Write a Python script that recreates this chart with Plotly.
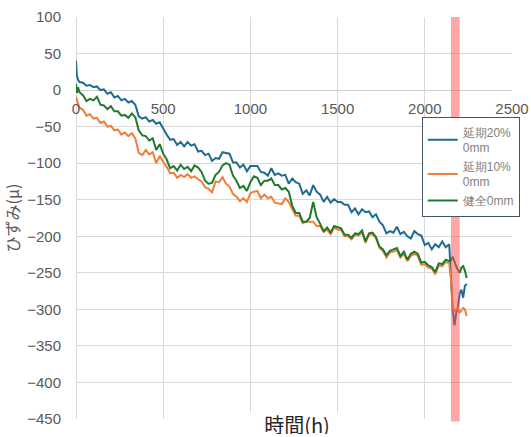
import plotly.graph_objects as go

hours = [0, 5, 12, 20, 40, 60, 80, 100, 120, 140, 160, 180, 200, 220, 240, 260, 280, 300, 320, 340,
         360, 380, 400, 420, 440, 460, 480, 500, 520, 540, 560, 580, 600, 620, 640, 660, 680, 700, 720, 740,
         760, 780, 800, 820, 840, 860, 880, 900, 920, 940, 960, 980, 1000, 1020, 1040, 1060, 1080, 1100, 1120, 1140,
         1160, 1180, 1200, 1220, 1240, 1260, 1280, 1300, 1320, 1340, 1360, 1380, 1400, 1420, 1440, 1460, 1480, 1500, 1520, 1540,
         1560, 1580, 1600, 1620, 1640, 1660, 1680, 1700, 1720, 1740, 1760, 1780, 1800, 1820, 1840, 1860, 1880, 1900, 1920, 1940,
         1960, 1980, 2000, 2020, 2040, 2060, 2080, 2100, 2120, 2140, 2150, 2160, 2170, 2180, 2190, 2200, 2210, 2220, 2230, 2240]

enki20 = [40, 20, 14, 11, 10, 6, 7, 4, 5, 0, 1, -5, -3, -10, -8, -14, -12, -17, -15, -20,
          -36, -39, -37, -43, -41, -46, -44, -53, -61, -68, -67, -75, -71, -77, -71, -76, -74, -84, -83, -89,
          -87, -97, -93, -94, -85, -86, -87, -99, -99, -106, -102, -111, -104, -104, -104, -112, -113, -117, -107, -116,
          -114, -117, -116, -128, -121, -126, -128, -142, -137, -144, -130, -139, -143, -153, -146, -154, -149, -153, -153, -157,
          -157, -167, -162, -170, -163, -167, -166, -174, -170, -180, -185, -196, -193, -195, -187, -197, -194, -200, -203, -193,
          -197, -199, -212, -209, -218, -211, -215, -207, -215, -211, -250, -300, -322, -305, -296, -278, -273, -284, -268, -265]

enki10 = [-9, -15, -19, -24, -27, -35, -33, -39, -38, -45, -43, -50, -49, -55, -54, -61, -58, -63, -59, -66,
          -86, -89, -82, -88, -85, -100, -90, -98, -105, -114, -113, -120, -116, -119, -115, -120, -118, -122, -125, -133,
          -135, -140, -125, -126, -119, -128, -132, -142, -146, -152, -148, -153, -141, -139, -138, -148, -143, -148, -146, -154,
          -155, -156, -148, -153, -163, -172, -172, -182, -180, -180, -180, -186, -186, -194, -191, -197, -188, -191, -191, -200,
          -200, -204, -198, -199, -195, -209, -198, -197, -203, -216, -220, -229, -222, -221, -219, -229, -224, -234, -227, -224,
          -227, -239, -238, -243, -244, -252, -240, -241, -235, -237, -259, -296, -303, -300, -298, -305, -301, -298, -300, -309]

kenzen = [9, -4, 4, -3, -7, -15, -12, -14, -9, -20, -21, -26, -22, -29, -29, -35, -34, -38, -32, -37,
          -55, -62, -63, -69, -66, -82, -74, -87, -95, -107, -104, -110, -102, -108, -105, -111, -103, -106, -112, -124,
          -128, -127, -116, -112, -103, -100, -102, -117, -124, -134, -131, -138, -126, -118, -120, -130, -124, -124, -121, -130,
          -130, -136, -134, -139, -158, -168, -168, -180, -180, -175, -153, -174, -183, -193, -188, -195, -186, -188, -189, -198,
          -198, -202, -196, -197, -192, -207, -196, -195, -201, -214, -218, -226, -220, -218, -216, -227, -221, -232, -224, -221,
          -224, -236, -235, -240, -242, -249, -237, -238, -232, -234, -233, -228, -236, -241, -246, -250, -243, -241, -247, -257]

series_names = ["延期20%<br>0mm", "延期10%<br>0mm", "健全0mm"]
series_colors = ["#1f6b91", "#f07e3a", "#1f7a2e"]
band_range = [2150, 2200]

fig = go.Figure()
for name, vals, col in zip(series_names, [enki20, enki10, kenzen], series_colors):
    fig.add_trace(go.Scatter(x=hours, y=vals, mode="lines", name=name,
                             line=dict(color=col, width=2)))

fig.add_shape(type="rect", xref="x", yref="paper", x0=band_range[0], x1=band_range[1],
              y0=-0.006, y1=1.0, fillcolor="rgba(255,80,80,0.5)", line=dict(width=0), layer="above")

grid = "#d9d9d9"
fig.update_layout(
    width=531, height=437,
    margin=dict(l=76, r=19, t=17, b=18, autoexpand=False),
    paper_bgcolor="white", plot_bgcolor="white",
    font=dict(family="Liberation Sans, Arial, sans-serif", color="#595959"),
    showlegend=True,
    legend=dict(x=0.793, y=0.752, xanchor="left", yanchor="top",
                bgcolor="white", bordercolor="#44546a", borderwidth=1,
                font=dict(size=12, color="#7f7f7f"), tracegroupgap=0,
                itemwidth=30),
    xaxis=dict(range=[0, 2500], dtick=500, tick0=0, showgrid=True, gridcolor=grid, gridwidth=1,
               zeroline=True, zerolinecolor=grid, zerolinewidth=1, showline=False,
               anchor="free", position=450/550, ticks="", ticklabelstandoff=8,
               automargin=False,
               tickfont=dict(size=15, color="#595959")),
    yaxis=dict(range=[-450, 100], dtick=50, tick0=0, showgrid=True, gridcolor=grid, gridwidth=1,
               zeroline=True, zerolinecolor="#cfcfcf", zerolinewidth=1, showline=False,
               ticks="", ticklabelstandoff=14, automargin=False,
               tickfont=dict(size=15, color="#595959"),
               title=dict(text="ひずみ(μ)", font=dict(size=16, color="#595959",
                                                  family="Noto Sans CJK JP"), standoff=7)),
)

fig.add_annotation(text="時間(h)", xref="paper", yref="paper", x=0.507, y=-5/402,
                   xanchor="center", yanchor="middle", showarrow=False,
                   font=dict(size=20, color="#262626", family="Noto Sans CJK JP, serif"),
                   bgcolor="white", width=118, height=20)

fig.write_html("out.html", config={"displayModeBar": False},
               post_script="document.body.style.margin='0';")
